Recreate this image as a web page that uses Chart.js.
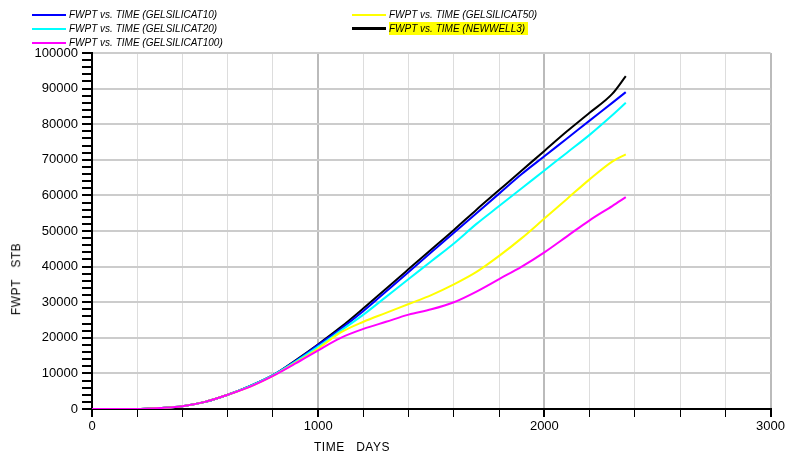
<!DOCTYPE html>
<html><head><meta charset="utf-8">
<script src="https://cdn.jsdelivr.net/npm/chart.js@4/dist/chart.umd.min.js"></script>
<style>
body{margin:0;background:#fff;font-family:"Liberation Sans",Arial,sans-serif}
#wrap{position:relative;width:787px;height:460px}
.lg{position:absolute;font-size:10px;font-style:italic;color:#000;display:flex;align-items:center;height:13px}
.lg i{display:inline-block;width:34px;height:2px;margin-right:3px}
.ax{position:absolute;font-size:12px;color:#000;letter-spacing:0.5px}
</style></head><body>
<div id="wrap">
<canvas id="c" width="787" height="460"></canvas>
<div class="lg" style="left:32px;top:8px"><i style="background:#0000ff"></i>FWPT vs. TIME (GELSILICAT10)</div>
<div class="lg" style="left:32px;top:22px"><i style="background:#00ffff"></i>FWPT vs. TIME (GELSILICAT20)</div>
<div class="lg" style="left:32px;top:36px"><i style="background:#ff00ff"></i>FWPT vs. TIME (GELSILICAT100)</div>
<div class="lg" style="left:352px;top:8px"><i style="background:#ffff00"></i>FWPT vs. TIME (GELSILICAT50)</div>
<div class="lg" style="left:352px;top:22px;background:linear-gradient(to right,transparent 37px,#ffff00 37px);padding-right:3px"><i style="background:#000;height:3px"></i>FWPT vs. TIME (NEWWELL3)</div>
<div class="ax" style="left:314px;top:440px">TIME&nbsp;&nbsp;&nbsp;DAYS</div>
<div class="ax" style="left:-20px;top:272px;transform:rotate(-90deg)">FWPT&nbsp;&nbsp;&nbsp;STB</div>
</div>
<script>
const days = [0, 200, 300, 400, 500, 600, 700, 800, 900, 1000, 1100, 1200, 1300, 1400, 1500, 1600, 1700, 1800, 1900, 2000, 2100, 2200, 2300, 2360];
const gel10 = [0, 0, 300, 800, 2000, 4000, 6500, 9500, 13500, 18000, 22500, 27500, 33000, 38500, 44000, 49500, 55000, 60500, 66000, 71000, 76000, 81000, 86000, 89000];
const gel20 = [0, 0, 300, 800, 2000, 4000, 6500, 9500, 13300, 17500, 22000, 26500, 31500, 36500, 41500, 46500, 52000, 57000, 62000, 67000, 72000, 77000, 82500, 86000];
const gel100 = [0, 0, 300, 800, 2000, 4000, 6300, 9300, 12800, 16500, 20000, 22500, 24500, 26500, 28000, 30000, 33000, 36500, 40000, 44000, 48500, 53000, 57000, 59500];
const gel50 = [0, 0, 300, 800, 2000, 4000, 6300, 9300, 13000, 17000, 21500, 24500, 27000, 29500, 32000, 35000, 38500, 43000, 48000, 53500, 59000, 64500, 69500, 71500];
const newwell3 = [0, 0, 300, 800, 2000, 4000, 6500, 9500, 13700, 18200, 23000, 28300, 33800, 39300, 44800, 50300, 56000, 61500, 67000, 72500, 78000, 83200, 88500, 93500];

const mk = (d, color, w) => ({
  data: days.map((x, i) => ({x, y: d[i]})),
  borderColor: color, borderWidth: w, pointRadius: 0, cubicInterpolationMode: 'monotone', fill: false
});

new Chart(document.getElementById('c'), {
  type: 'line',
  data: { datasets: [
    mk(gel100, '#ff00ff', 2), mk(gel50, '#ffff00', 2), mk(gel20, '#00ffff', 2),
    mk(gel10, '#0000ff', 2), mk(newwell3, '#000000', 2)
  ]},
  options: {
    responsive: false, animation: false,
    layout: { padding: { top: 53, right: 0, left: 0, bottom: 0 } },
    plugins: { legend: { display: false }, tooltip: { enabled: false } },
    scales: {
      x: {
        type: 'linear', min: 0, max: 3000,
        afterFit: s => { s.height = 51; },
        border: { color: '#000', width: 2 },
        grid: {
          color: c => c.tick.value % 1000 === 0 ? '#bbb' : '#ddd',
          lineWidth: c => c.tick.value % 1000 === 0 ? 2 : 1,
          tickColor: '#000', tickLength: 8
        },
        ticks: {
          stepSize: 200, autoSkip: false, maxRotation: 0, color: '#000', padding: 2,
          font: { family: 'Liberation Sans', size: 13 },
          callback: v => v % 1000 === 0 ? v : ''
        }
      },
      y: {
        min: 0, max: 100000,
        afterFit: s => { s.width = 92; },
        border: { color: '#000', width: 2 },
        grid: {
          color: c => c.tick.value % 10000 === 0 ? '#ccc' : 'transparent',
          lineWidth: 2, tickColor: '#000', tickLength: 10
        },
        ticks: {
          stepSize: 2000, autoSkip: false, color: '#000', padding: 4,
          font: { family: 'Liberation Sans', size: 13 },
          callback: v => v % 10000 === 0 ? v : ''
        }
      }
    }
  }
});
</script>
</body></html>
